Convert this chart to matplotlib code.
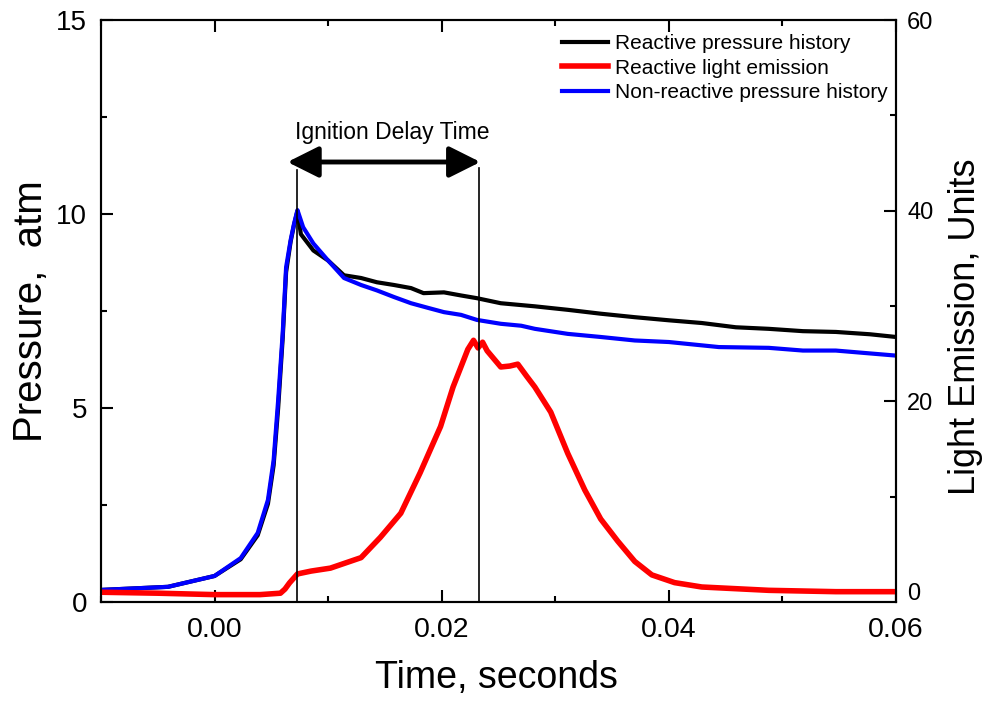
import matplotlib
matplotlib.use("Agg")
import matplotlib.pyplot as plt
from matplotlib.ticker import MultipleLocator

plt.rcParams['font.family'] = ['Liberation Sans', 'DejaVu Sans']

# ---- data ----
t_nonreactive = [-0.01, -0.0041, 0.0, 0.0023, 0.0038, 0.0047, 0.0052, 0.0056, 0.006, 0.0063,
                 0.0067, 0.007, 0.0073, 0.0078, 0.0087, 0.010, 0.0114, 0.0129, 0.0143, 0.0158,
                 0.0173, 0.0188, 0.0202, 0.0217, 0.0231, 0.0252, 0.027, 0.0282, 0.0311, 0.034,
                 0.037, 0.040, 0.0444, 0.0488, 0.0518, 0.0547, 0.06]
p_nonreactive = [0.31, 0.39, 0.67, 1.13, 1.78, 2.63, 3.65, 5.2, 6.93, 8.63,
                 9.33, 9.75, 10.1, 9.66, 9.24, 8.8, 8.35, 8.17, 8.03, 7.86,
                 7.7, 7.58, 7.47, 7.4, 7.27, 7.17, 7.12, 7.04, 6.91, 6.83,
                 6.74, 6.7, 6.57, 6.55, 6.48, 6.48, 6.35]

t_reactive = [-0.01, -0.0041, 0.0, 0.0023, 0.0038, 0.0047, 0.0052, 0.0056, 0.006, 0.0063,
              0.0067, 0.007, 0.0073, 0.0076, 0.0087, 0.010, 0.0114, 0.0129, 0.0143, 0.0158,
              0.0173, 0.0184, 0.0202, 0.0217, 0.0231, 0.0252, 0.0282, 0.0311, 0.034, 0.037,
              0.040, 0.0429, 0.0459, 0.0488, 0.0518, 0.0547, 0.0577, 0.06]
p_reactive = [0.31, 0.39, 0.67, 1.1, 1.72, 2.53, 3.52, 5.0, 6.8, 8.5,
              9.29, 9.72, 10.08, 9.48, 9.06, 8.8, 8.42, 8.35, 8.24, 8.17,
              8.09, 7.96, 7.98, 7.9, 7.83, 7.7, 7.62, 7.53, 7.43, 7.34,
              7.26, 7.19, 7.08, 7.04, 6.98, 6.96, 6.9, 6.83]

t_light = [-0.01, -0.005, 0.0, 0.004, 0.0058, 0.0062, 0.0066, 0.0073, 0.0085, 0.0102,
           0.0129, 0.0146, 0.0164, 0.0181, 0.0199, 0.021, 0.0223, 0.0228, 0.0232, 0.0236,
           0.024, 0.0252, 0.026, 0.0267, 0.0275, 0.0282, 0.0296, 0.0311, 0.0326, 0.034,
           0.0355, 0.037, 0.0385, 0.0405, 0.0429, 0.0488, 0.0547, 0.06]
l_light = [-0.03, -0.13, -0.28, -0.28, -0.13, 0.3, 0.95, 1.89, 2.19, 2.5,
           3.6, 5.73, 8.26, 12.5, 17.36, 21.5, 25.45, 26.4, 25.6, 26.2,
           25.3, 23.6, 23.7, 23.9, 22.6, 21.5, 18.87, 14.53, 10.69, 7.65,
           5.33, 3.2, 1.79, 0.98, 0.52, 0.17, 0.03, 0.03]

idt_start = 0.0073
idt_end = 0.0233
xticks = [0.00, 0.02, 0.04, 0.06]
xtick_labels = ['0.00', '0.02', '0.04', '0.06']
yticks_left = [0, 5, 10, 15]
yticks_right = [0, 20, 40, 60]

# ---- figure ----
fig = plt.figure(figsize=(9.88, 7.02), dpi=100)
ax = fig.add_axes([0.1022, 0.1425, 0.8047, 0.8290])
ax2 = ax.twinx()

lw = 3.0
l1, = ax.plot(t_reactive, p_reactive, color='black', lw=lw, label='Reactive pressure history')
l3, = ax.plot(t_nonreactive, p_nonreactive, color='#0000ff', lw=lw, label='Non-reactive pressure history')
l2, = ax2.plot(t_light, l_light, color='#ff0000', lw=4.0, label='Reactive light emission')

ax.set_xlim(-0.01, 0.06)
ax.set_ylim(0, 15)
ax2.set_ylim(-1.05, 60)

ax.set_xticks(xticks)
ax.set_xticklabels(xtick_labels)
ax.xaxis.set_minor_locator(MultipleLocator(0.01))
ax.set_yticks(yticks_left)
ax.yaxis.set_minor_locator(MultipleLocator(2.5))
ax2.set_yticks(yticks_right)
ax2.yaxis.set_minor_locator(MultipleLocator(10))

for a in (ax, ax2):
    for s in a.spines.values():
        s.set_linewidth(1.5)
ax.tick_params(which='both', direction='in', top=True, right=False, width=1.5)
ax.tick_params(which='major', length=8.5)
ax.tick_params(which='minor', length=4.3)
ax.tick_params(axis='x', labelsize=20.5, pad=11)
ax.tick_params(axis='y', labelsize=20, pad=10)
ax2.tick_params(axis='y', which='both', direction='in', width=1.5, labelsize=17, pad=8)
ax2.tick_params(axis='y', which='major', length=8.5)
ax2.tick_params(axis='y', which='minor', length=4.3)
ax2.tick_params(axis='x', which='both', top=False, bottom=False)

ax.set_xlabel('Time, seconds', fontsize=27)
ax.xaxis.set_label_coords(0.498, -0.100)
ax.set_ylabel('Pressure,  atm', fontsize=29)
ax.yaxis.set_label_coords(-0.064, 0.5)
ax2.set_ylabel('Light Emission, Units', fontsize=26)
ax2.yaxis.set_label_coords(1.066, 0.4725)

# ignition delay markers
for tv, top in ((idt_start, 11.13), (idt_end, 11.18)):
    ax2.plot([tv, tv], [0, top], color='black', lw=1.2, transform=ax.transData)
ax2.annotate('', xy=(0.00642, 11.34), xytext=(0.0234, 11.34),
             xycoords=ax.transData, textcoords=ax.transData,
             arrowprops=dict(arrowstyle='<|-|>,head_length=1.0,head_width=0.5',
                             mutation_scale=19, lw=3.5, color='black',
                             shrinkA=0, shrinkB=0))
ax2.text(0.01562, 12.09, 'Ignition Delay Time', transform=ax.transData,
         ha='center', va='center', fontsize=16.5)

leg = ax2.legend(handles=[l1, l2, l3], loc='upper right', frameon=False,
                 fontsize=15, handlelength=2.2, handletextpad=0.34,
                 labelspacing=0.27, borderaxespad=0.0, bbox_to_anchor=(1.0, 0.99))

fig.savefig('out.png', dpi=100)
